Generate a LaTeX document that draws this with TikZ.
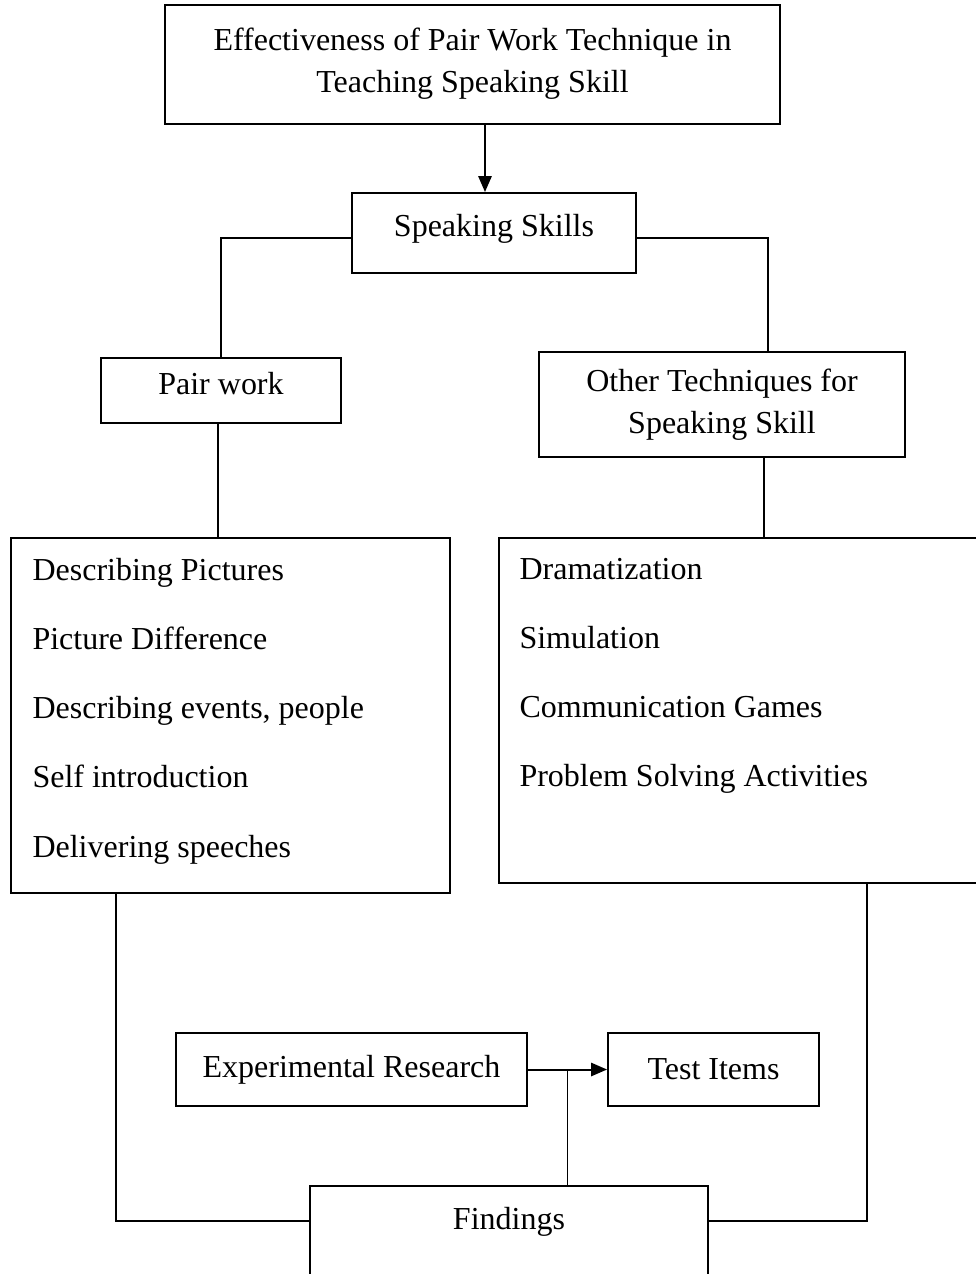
\documentclass[tikz,border=0pt]{standalone}
\usepackage{fontspec}
\setmainfont{Liberation Serif}
\usepackage{tikz}
\usetikzlibrary{arrows.meta,positioning,calc}

\begin{document}
\begin{tikzpicture}[
    x=0.375pt, y=-0.375pt,
    box/.style={rectangle, draw=black, line width=0.75pt, inner sep=0pt, align=center, font=\fontsize{12}{15.8}\selectfont},
    itemtxt/.style={anchor=north west, inner sep=0pt, align=left, font=\fontsize{12}{25.9}\selectfont},
    line/.style={draw=black, line width=0.75pt},
    arrow/.style={-{Triangle[length=6pt, width=5pt]}, line width=0.75pt, draw=black}
]
    \clip (0,0) rectangle (976,1274);

    \node (top) [box, minimum width=230.6pt, minimum height=44.6pt, text depth=3.5pt] at (472.5,64.5) {Effectiveness of Pair Work Technique in\\Teaching Speaking Skill};
    \node (speak) [box, minimum width=106.5pt, minimum height=30pt] at (494,233) {\raisebox{6pt}{Speaking Skills}};
    \node (pair) [box, minimum width=90pt, minimum height=24.4pt] at (221,390.5) {\raisebox{5.2pt}{Pair work}};
    \node (other) [box, minimum width=137.3pt, minimum height=39.4pt] at (722,404.5) {Other Techniques for\\Speaking Skill};

    \node (plist) [box, minimum width=164.6pt, minimum height=133.1pt] at (230.5,715.5) {};
    \node (plisttxt) [itemtxt] at (32,558) {Describing Pictures\\Picture Difference\\Describing events, people\\Self introduction\\Delivering speeches};
    \node (olist) [box, minimum width=191.6pt, minimum height=129.4pt] at (754.5,710.5) {};
    \node (olisttxt) [itemtxt] at (519,558) {Dramatization\\Simulation\\Communication Games\\Problem Solving Activities};

    \node (exp) [box, minimum width=131.6pt, minimum height=27.4pt] at (351.5,1069.5) {Experimental Research};
    \node (test) [box, minimum width=79.1pt, minimum height=27.4pt] at (713.5,1069.5) {Test Items};
    \node (find) [box, minimum width=149.25pt, minimum height=46.5pt] at (509,1248) {\raisebox{22.5pt}{Findings}};

    % connectors
    \coordinate (a1) at ($(top.south)+(12.5,0)$);
    \draw [arrow] (a1) -- (a1 |- speak.north);
    \draw [line] ($(speak.west)+(0,5)$) -| (pair.north);
    \draw [line] ($(speak.east)+(0,5)$) -| ($(other.north)+(46,0)$);
    \draw [line] ($(pair.south)+(-3,0)$) -- ($(pair.south |- plist.north)+(-3,0)$);
    \coordinate (o1) at ($(other.south)+(42,0)$);
    \draw [line] (o1) -- (o1 |- olist.north);

    \coordinate (fl) at ($(find.north west)+(0,36)$);
    \coordinate (fr) at ($(find.north east)+(0,36)$);
    \draw [line] ($(plist.south west)+(106,0)$) |- (fl);
    \draw [line] ($(olist.south west)+(369,0)$) |- (fr);

    \draw [arrow] (exp.east) -- (test.west);
    \coordinate (m1) at ($(exp.east)!0.5!(test.west)$);
    \draw [line, line width=0.6pt] (m1) -- (m1 |- find.north);
\end{tikzpicture}
\end{document}
